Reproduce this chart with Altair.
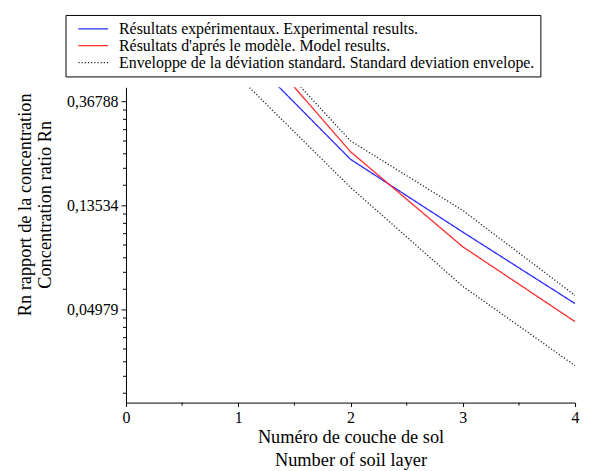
import altair as alt
import pandas as pd

# ---- data ----
layers = [1, 2, 3, 4]
experimental = [0.628, 0.211, 0.1048, 0.0527]
model = [0.785, 0.227, 0.0910, 0.0443]
envelope_upper = [0.811, 0.252, 0.129, 0.0570]
envelope_lower = [0.468, 0.161, 0.0622, 0.0290]

series_names = [
    "Résultats expérimentaux. Experimental results.",
    "Résultats d'aprés le modèle. Model results.",
    "Enveloppe de la déviation standard. Standard deviation envelope.",
]

y_tick_values = [0.36788, 0.13534, 0.04979]
y_minor_ticks = [0.33881, 0.30975, 0.28068, 0.25161, 0.22255, 0.19348, 0.16441,
                 0.12464, 0.11395, 0.10325, 0.09256, 0.08187, 0.07117, 0.06048,
                 0.04586, 0.04192, 0.03799, 0.03406, 0.03012, 0.02619, 0.02226]
y_domain = [0.02034, 0.4215]
x_tick_values = [0, 1, 2, 3, 4]
x_minor_ticks = [0.5, 1.5, 2.5, 3.5]

rows = []
for part, name, vals in [
    ("exp", series_names[0], experimental),
    ("mod", series_names[1], model),
    ("up", series_names[2], envelope_upper),
    ("low", series_names[2], envelope_lower),
]:
    for x, v in zip(layers, vals):
        rows.append({"layer": x, "value": v, "series": name, "part": part})
df = pd.DataFrame(rows)

W, H = 453, 318
FONT = "Liberation Serif"

yscale = alt.Scale(type="log", domain=y_domain, nice=False)
xscale = alt.Scale(domain=[0, 4], nice=False)

xaxis = alt.Axis(
    values=x_tick_values, format="d", grid=False, tickSize=4, labelPadding=3,
    title=["Numéro de couche de sol", "Number of soil layer"],
    titleX=W / 2, titleY=25, titleAlign="center", titleBaseline="top",
    titleLineHeight=23, labelFlush=False)
yaxis = alt.Axis(
    values=y_tick_values, grid=False, tickSize=5, labelPadding=3,
    labelExpr="replace(format(datum.value, '.5f'), '.', ',')",
    title=["Rn rapport de la concentration", "Concentration ratio Rn"],
    titleX=-111, titleY=118, titleAngle=270, titleAlign="center",
    titleBaseline="top", titleLineHeight=20, labelFlush=False)

legend = alt.Legend(
    title=None, orient="none", legendX=-61, legendY=-73, direction="vertical",
    fillColor="white", strokeColor="black", padding=6, rowPadding=1,
    symbolType="M-3,0L3,0", symbolSize=100, symbolStrokeWidth=1.3,
    symbolOffset=14, labelOffset=18,
    labelFont=FONT, labelFontSize=16, labelLimit=700, labelColor="black",
)

lines = alt.Chart(df).mark_line(clip=True, strokeWidth=1.3).encode(
    x=alt.X("layer:Q", scale=xscale, axis=xaxis),
    y=alt.Y("value:Q", scale=yscale, axis=yaxis),
    color=alt.Color("series:N", scale=alt.Scale(
        domain=series_names, range=["#2a2aff", "#ff2a2a", "#222222"]), legend=legend),
    strokeDash=alt.StrokeDash("series:N", scale=alt.Scale(
        domain=series_names, range=[[1, 0], [1, 0], [1.2, 2]]), legend=legend),
    detail="part:N",
    order="layer:Q",
)

ymin_df = pd.DataFrame({"value": y_minor_ticks})
y_minor = alt.Chart(ymin_df).mark_rule(color="black", strokeWidth=1).encode(
    y=alt.Y("value:Q", scale=yscale, axis=yaxis),
    x=alt.value(-3), x2=alt.value(0),
)

xmin_df = pd.DataFrame({"layer": x_minor_ticks})
x_minor = alt.Chart(xmin_df).mark_rule(color="black", strokeWidth=1).encode(
    x=alt.X("layer:Q", scale=xscale, axis=xaxis),
    y=alt.value(H), y2=alt.value(H + 3),
)

chart = alt.layer(lines, y_minor, x_minor).properties(
    width=W, height=H,
    padding={"left": 8, "top": 4, "right": 5, "bottom": 5},
).configure_view(stroke=None).configure_axis(
    domainColor="black", tickColor="black", labelColor="black", titleColor="black",
    labelFont=FONT, labelFontSize=16, titleFont=FONT, titleFontSize=18.5,
    titleFontWeight="normal", domainWidth=1, tickWidth=1,
)

chart.save("out.html", embed_options={"renderer": "svg", "actions": False})
